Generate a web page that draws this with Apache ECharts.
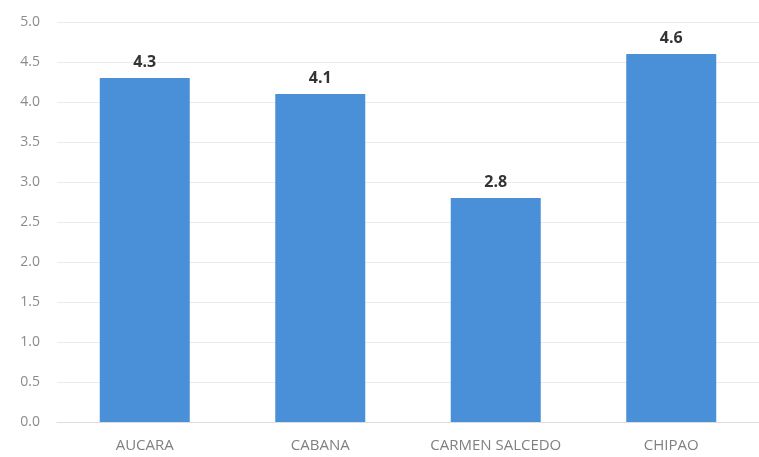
<!DOCTYPE html>
<html><head><meta charset="utf-8">
<script src="https://cdn.jsdelivr.net/npm/echarts@6/dist/echarts.min.js"></script>
<style>html,body{margin:0;padding:0;background:#fff}#c{width:759px;height:457px}</style>
</head><body><div id="c"></div>
<script>
var categories = ['AUCARA', 'CABANA', 'CARMEN SALCEDO', 'CHIPAO'];
var values = [4.3, 4.1, 2.8, 4.6];
var yTicks = {min: 0, max: 5, interval: 0.5};

var chart = echarts.init(document.getElementById('c'));
chart.setOption({
  animation: false,
  grid: {left: 57, right: -3, top: 22, bottom: 35},
  xAxis: {
    type: 'category', data: categories,
    axisLine: {lineStyle: {color: '#dcdcdc'}},
    axisTick: {show: false},
    axisLabel: {color: '#808080', fontSize: 15, fontFamily: 'Open Sans', margin: 16}
  },
  yAxis: {
    type: 'value', min: yTicks.min, max: yTicks.max, interval: yTicks.interval,
    axisLine: {show: false}, axisTick: {show: false},
    axisLabel: {color: '#8c8c8c', fontSize: 14, fontFamily: 'Open Sans', margin: 17,
      formatter: function (v) { return v.toFixed(1); }},
    splitLine: {lineStyle: {color: '#ebebeb'}}
  },
  series: [{
    type: 'bar', data: values, barWidth: 90,
    itemStyle: {color: '#4a90d9'},
    label: {show: true, position: 'top', distance: 8, color: '#333', fontSize: 16,
      fontWeight: 'bold', fontFamily: 'Open Sans',
      formatter: function (p) { return p.value.toFixed(1); }}
  }]
});
</script></body></html>
